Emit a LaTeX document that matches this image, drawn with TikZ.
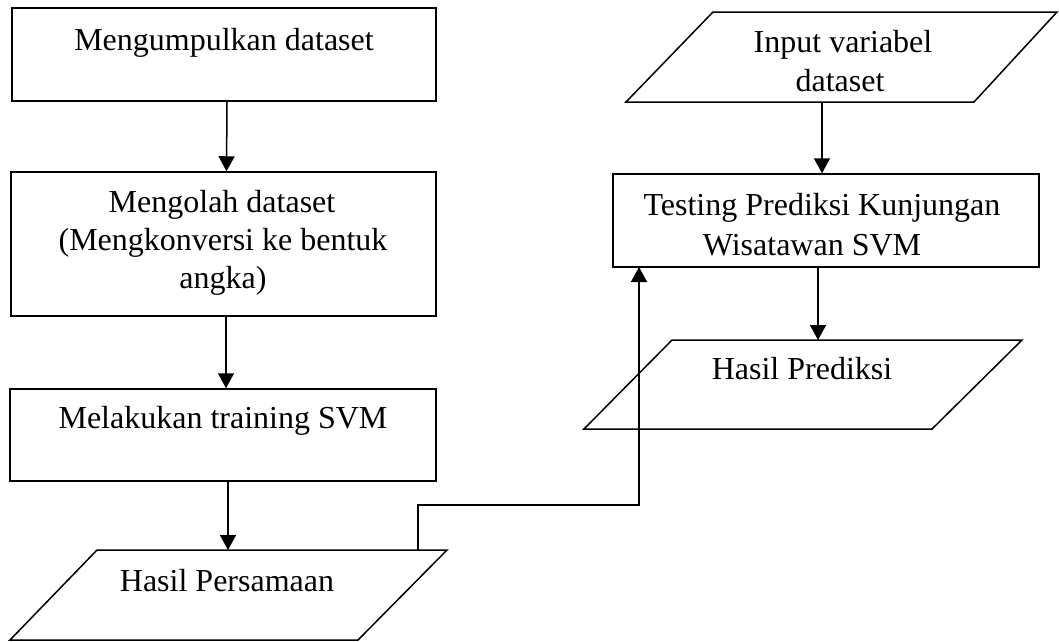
\documentclass[tikz,border=0pt]{standalone}
\usepackage{fontspec}
\setmainfont{Liberation Serif}
\usetikzlibrary{arrows.meta}
\begin{document}
\begin{tikzpicture}[x=1pt,y=-1pt,
  line/.style={line width=1.5pt},
  flow/.style={line width=1.5pt, -{Triangle[length=15pt,width=16pt]}},
  boxshape/.style={draw, line width=1.5pt, rectangle, inner sep=0pt},
  txt/.style={anchor=base, inner sep=0pt, font=\fontsize{32}{38}\selectfont}]
\useasboundingbox (0,0) rectangle (1059,641);
\fill[white] (0,0) rectangle (1059,641);

% boxes
\node[boxshape, minimum width=424pt, minimum height=93pt] (b1) at (224,54.5) {};
\node[boxshape, minimum width=425pt, minimum height=144pt] (b2) at (223.5,244) {};
\node[boxshape, minimum width=426pt, minimum height=92pt] (b3) at (223,435) {};
\node[boxshape, minimum width=426pt, minimum height=93pt] (b4) at (826,220.5) {};

% parallelograms
\coordinate (p1tl) at (97,550);
\coordinate (p1tr) at (447,550);
\coordinate (p1br) at (358,640);
\coordinate (p1bl) at (10,640);
\draw[line] (p1tl) -- (p1tr) -- (p1br) -- (p1bl) -- cycle;

\coordinate (p2tl) at (713,12);
\coordinate (p2tr) at (1057,12);
\coordinate (p2br) at (974,102);
\coordinate (p2bl) at (626,102);
\draw[line] (p2tl) -- (p2tr) -- (p2br) -- (p2bl) -- cycle;

\coordinate (p3tl) at (672,340);
\coordinate (p3tr) at (1022,340);
\coordinate (p3br) at (932,429);
\coordinate (p3bl) at (584,429);
\draw[line] (p3tl) -- (p3tr) -- (p3br) -- (p3bl) -- cycle;

% texts
\node[txt] (t1) at (224,50) {Mengumpulkan dataset};
\node[txt] (t2a) at (222,212) {Mengolah dataset};
\node[txt] (t2b) at (223,250) {(Mengkonversi ke bentuk};
\node[txt] (t2c) at (223,288) {angka)};
\node[txt] (t3) at (223,428) {Melakukan training SVM};
\node[txt] (t4) at (227,591) {Hasil Persamaan};
\node[txt] (t5a) at (843,52) {Input variabel};
\node[txt] (t5b) at (840,91) {dataset};
\node[txt] (t6a) at (822,215) {Testing Prediksi Kunjungan};
\node[txt] (t6b) at (812,255) {Wisatawan SVM};
\node[txt] (t7) at (802,379) {Hasil Prediksi};

% connectors
\coordinate (p1in) at (228,550);
\coordinate (p1out) at (418,550);
\coordinate (p2out) at (822,102);
\coordinate (p3in) at (818,340);
\coordinate (b4in) at (639,267);

\draw[flow] ([xshift=3pt]b1.south) -- ([xshift=3pt]b2.north);
\draw[flow] ([xshift=2.5pt]b2.south) -- ([xshift=3pt]b3.north);
\draw[flow] (b3.south -| p1in) -- (p1in);
\draw[flow] (p2out) -- (b4.north -| p2out);
\draw[flow] (b4.south -| p3in) -- (p3in);
\draw[flow] (p1out) -- ++(0,-45) -| (b4in);
\end{tikzpicture}
\end{document}
